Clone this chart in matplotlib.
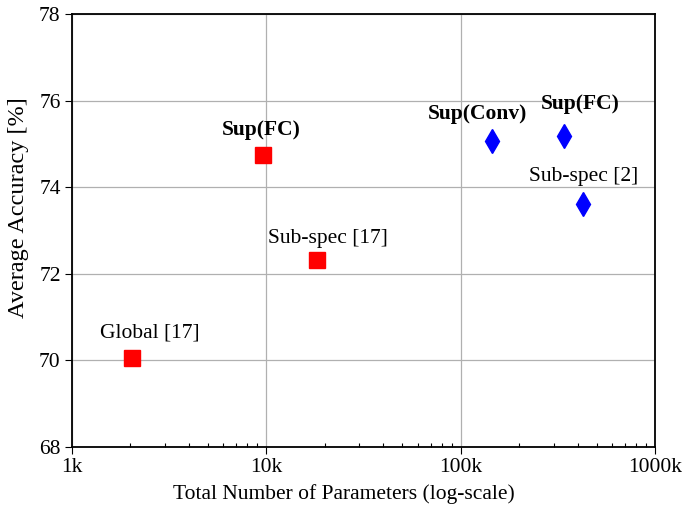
import matplotlib.pyplot as plt
from matplotlib.ticker import LogLocator, NullFormatter

plt.rcParams['font.family'] = ['Liberation Serif', 'DejaVu Serif']

# ours / baselines (params in k, accuracy in %)
red_names = ['Global [17]', 'Sup(FC)', 'Sub-spec [17]']
red_params = [2.03, 9.6, 18.2]
red_acc = [70.06, 74.74, 72.32]
red_bold = [False, True, False]

blue_names = ['Sup(Conv)', 'Sup(FC)', 'Sub-spec [2]']
blue_params = [144, 338, 424]
blue_acc = [75.07, 75.18, 73.61]
blue_bold = [True, True, False]

xticks = [1, 10, 100, 1000]
xticklabels = ['1k', '10k', '100k', '1000k']
yticks = [68, 70, 72, 74, 76, 78]

# label offsets in pixels (dx, dy)
red_off = [(18, 25), (-2, 25), (11, 21)]
blue_off = [(-14, 27), (17, 32), (1, 28)]

FS = 15.5

fig = plt.figure(figsize=(6.84, 5.08), dpi=100)
ax = fig.add_axes([0.105, 0.12, 0.853, 0.8524])

ax.set_xscale('log')
ax.set_xlim(1, 1000)
ax.set_ylim(68, 78)

ax.plot(red_params, red_acc, 's', color='#ff0000', markersize=11.5, linestyle='none', zorder=3)
ax.plot(blue_params, blue_acc, 'd', color='#0000ff', markersize=12.2, linestyle='none', zorder=3)

for names, xs, ys, bold, offs in [(red_names, red_params, red_acc, red_bold, red_off),
                                  (blue_names, blue_params, blue_acc, blue_bold, blue_off)]:
    for n, x, y, b, o in zip(names, xs, ys, bold, offs):
        ax.annotate(n, (x, y), xytext=o, textcoords='offset pixels',
                    ha='center', va='center', fontsize=FS,
                    fontweight='bold' if b else 'normal')

ax.set_xticks(xticks)
ax.set_xticklabels(xticklabels)
ax.xaxis.set_minor_locator(LogLocator(base=10, subs=range(2, 10)))
ax.xaxis.set_minor_formatter(NullFormatter())
ax.set_yticks(yticks)

ax.tick_params(axis='both', which='major', direction='out', length=5, width=0.8,
               labelsize=FS, colors='black', top=False, right=False, pad=3)
ax.tick_params(axis='x', which='minor', direction='in', length=3, width=0.8)
ax.grid(True, which='major', color='#b0b0b0', linewidth=0.9)
ax.set_axisbelow(True)
for s in ax.spines.values():
    s.set_color('black')
    s.set_linewidth(1.3)

ax.set_xlabel('Total Number of Parameters (log-scale)', fontsize=FS, labelpad=5)
ax.xaxis.set_label_coords(0.467, -0.085)
ax.set_ylabel('Average Accuracy [%]', fontsize=17.5)
ax.yaxis.set_label_coords(-0.074, 0.554)

fig.savefig('out.png', dpi=100)
